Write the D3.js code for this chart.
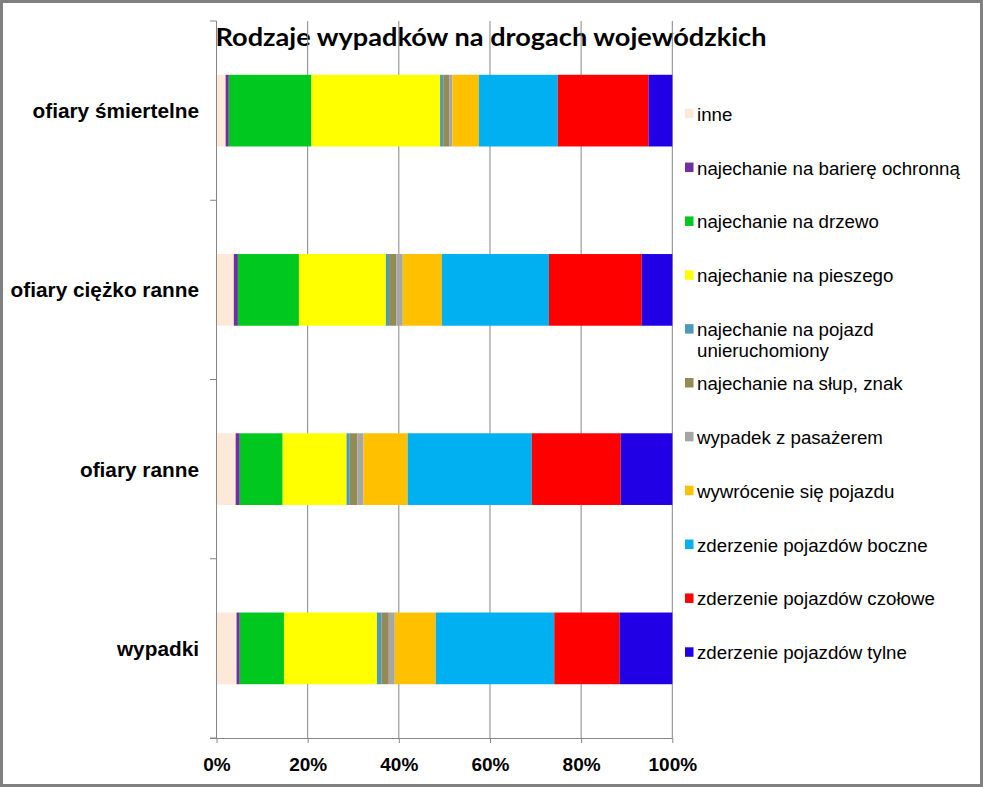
<!DOCTYPE html>
<html><head><meta charset="utf-8">
<script src="https://cdn.jsdelivr.net/npm/d3@7"></script>
<style>html,body{margin:0;padding:0;background:#fff;}svg{display:block;}</style>
</head><body>
<svg id="chart" width="983" height="787"></svg>
<script>
const categories = ["ofiary śmiertelne", "ofiary ciężko ranne", "ofiary ranne", "wypadki"];
const seriesNames = ["inne", "najechanie na barierę ochronną", "najechanie na drzewo", "najechanie na pieszego",
  "najechanie na pojazd unieruchomiony", "najechanie na słup, znak", "wypadek z pasażerem",
  "wywrócenie się pojazdu", "zderzenie pojazdów boczne", "zderzenie pojazdów czołowe", "zderzenie pojazdów tylne"];
const inne = [2.0, 3.8, 4.2, 4.4];
const bariera = [0.7, 0.9, 0.9, 0.7];
const drzewo = [18.1, 13.4, 9.4, 9.7];
const pieszy = [28.2, 19.1, 14.0, 20.4];
const unieruchomiony = [0.7, 0.7, 0.7, 1.0];
const slup = [1.3, 1.6, 1.7, 1.6];
const pasazer = [0.7, 1.4, 1.3, 1.3];
const wywrocenie = [5.8, 8.6, 9.7, 9.0];
const boczne = [17.3, 23.5, 27.2, 26.0];
const czolowe = [19.9, 20.4, 19.5, 14.3];
const tylne = [5.2, 6.7, 11.3, 11.6];
const tickLabels = ["0%", "20%", "40%", "60%", "80%", "100%"];
const colors = ["#FDE9D9", "#7030A0", "#00C81E", "#FFFF00", "#4A9AB8", "#948A54", "#A6A6A6", "#FFC000", "#00B0F0", "#FF0000", "#2200E6"];

const seriesValues = [inne, bariera, drzewo, pieszy, unieruchomiony, slup, pasazer, wywrocenie, boczne, czolowe, tylne];
const table = categories.map((c, i) => {
  const row = {cat: c};
  seriesNames.forEach((s, j) => row[s] = seriesValues[j][i]);
  return row;
});

const svg = d3.select("#chart");
const x = d3.scaleLinear().domain([0, 1]).range([216.5, 672.3]);
const y = d3.scaleBand().domain(categories).range([21, 738]).paddingInner(0.6).paddingOuter(0.3);
const color = d3.scaleOrdinal().domain(seriesNames).range(colors);

const stack = d3.stack().keys(seriesNames).offset(d3.stackOffsetExpand);
const stacked = stack(table);

// title (behind gridlines)
svg.append("text").attr("x", 491).attr("y", 46).attr("text-anchor", "middle")
  .attr("font-family", "Lato, 'Open Sans', sans-serif").attr("font-weight", "bold").attr("font-size", 25)
  .attr("textLength", 551).attr("lengthAdjust", "spacingAndGlyphs")
  .attr("fill", "#000").text("Rodzaje wypadków na drogach wojewódzkich");

// gridlines
const ticks = [0, 0.2, 0.4, 0.6, 0.8, 1];
svg.append("g").selectAll("line").data(ticks.slice(1)).join("line")
  .attr("x1", d => x(d)).attr("x2", d => x(d)).attr("y1", 21).attr("y2", 738)
  .attr("stroke", "#868686").attr("stroke-width", 1);

// bars
svg.append("g").selectAll("g").data(stacked).join("g")
  .attr("fill", d => color(d.key))
  .selectAll("rect").data(d => d).join("rect")
  .attr("x", d => x(d[0])).attr("width", d => x(d[1]) - x(d[0]))
  .attr("y", d => y(d.data.cat)).attr("height", y.bandwidth());

// x axis
const xAxis = d3.axisBottom(x).tickValues(ticks).tickFormat((d, i) => tickLabels[i]).tickSizeInner(5).tickSizeOuter(0);
const gx = svg.append("g").attr("transform", "translate(0,738)").call(xAxis);
gx.select(".domain").attr("stroke", "#868686").attr("d", `M210,0.5H${x(1)}`);
gx.selectAll(".tick line").attr("stroke", "#868686");
gx.selectAll(".tick text").attr("font-family", "'Liberation Sans', Arial, sans-serif").attr("font-weight", "bold")
  .attr("font-size", 19).attr("fill", "#000").attr("dy", null).attr("y", 33);

// y axis (category)
svg.append("line").attr("x1", x(0)).attr("x2", x(0)).attr("y1", 21).attr("y2", 738).attr("stroke", "#868686");
const step = y.step();
const bounds = d3.range(categories.length + 1).map(i => 21 + i * step);
svg.append("g").selectAll("line").data(bounds).join("line")
  .attr("x1", 210).attr("x2", x(0)).attr("y1", d => d).attr("y2", d => d)
  .attr("stroke", "#868686");
svg.append("g").selectAll("text").data(categories).join("text")
  .attr("x", 199).attr("y", d => y(d) + y.bandwidth() / 2 + 7.5)
  .attr("text-anchor", "end")
  .attr("font-family", "'Liberation Sans', Arial, sans-serif").attr("font-weight", "bold").attr("font-size", 20.8)
  .attr("fill", "#000").text(d => d);

// legend
const legendLines = [["inne"], ["najechanie na barierę ochronną"], ["najechanie na drzewo"], ["najechanie na pieszego"],
  ["najechanie na pojazd", "unieruchomiony"], ["najechanie na słup, znak"], ["wypadek z pasażerem"],
  ["wywrócenie się pojazdu"], ["zderzenie pojazdów boczne"], ["zderzenie pojazdów czołowe"], ["zderzenie pojazdów tylne"]];
const lg = svg.append("g").selectAll("g").data(seriesNames).join("g")
  .attr("transform", (d, i) => `translate(0,${120.7 + i * 53.86})`);
lg.append("rect").attr("x", 685).attr("y", -12).attr("width", 8.5).attr("height", 9.5).attr("fill", d => color(d));
lg.append("text").attr("font-family", "'Liberation Sans', Arial, sans-serif").attr("font-size", 18.7).attr("fill", "#000")
  .selectAll("tspan").data((d, i) => legendLines[i]).join("tspan")
  .attr("x", 697).attr("y", (d, i) => i * 21).text(d => d);

// outer border
svg.append("rect").attr("x", 1.5).attr("y", 1.5).attr("width", 980).attr("height", 784)
  .attr("fill", "none").attr("stroke", "#808080").attr("stroke-width", 3);
</script>
</body></html>
